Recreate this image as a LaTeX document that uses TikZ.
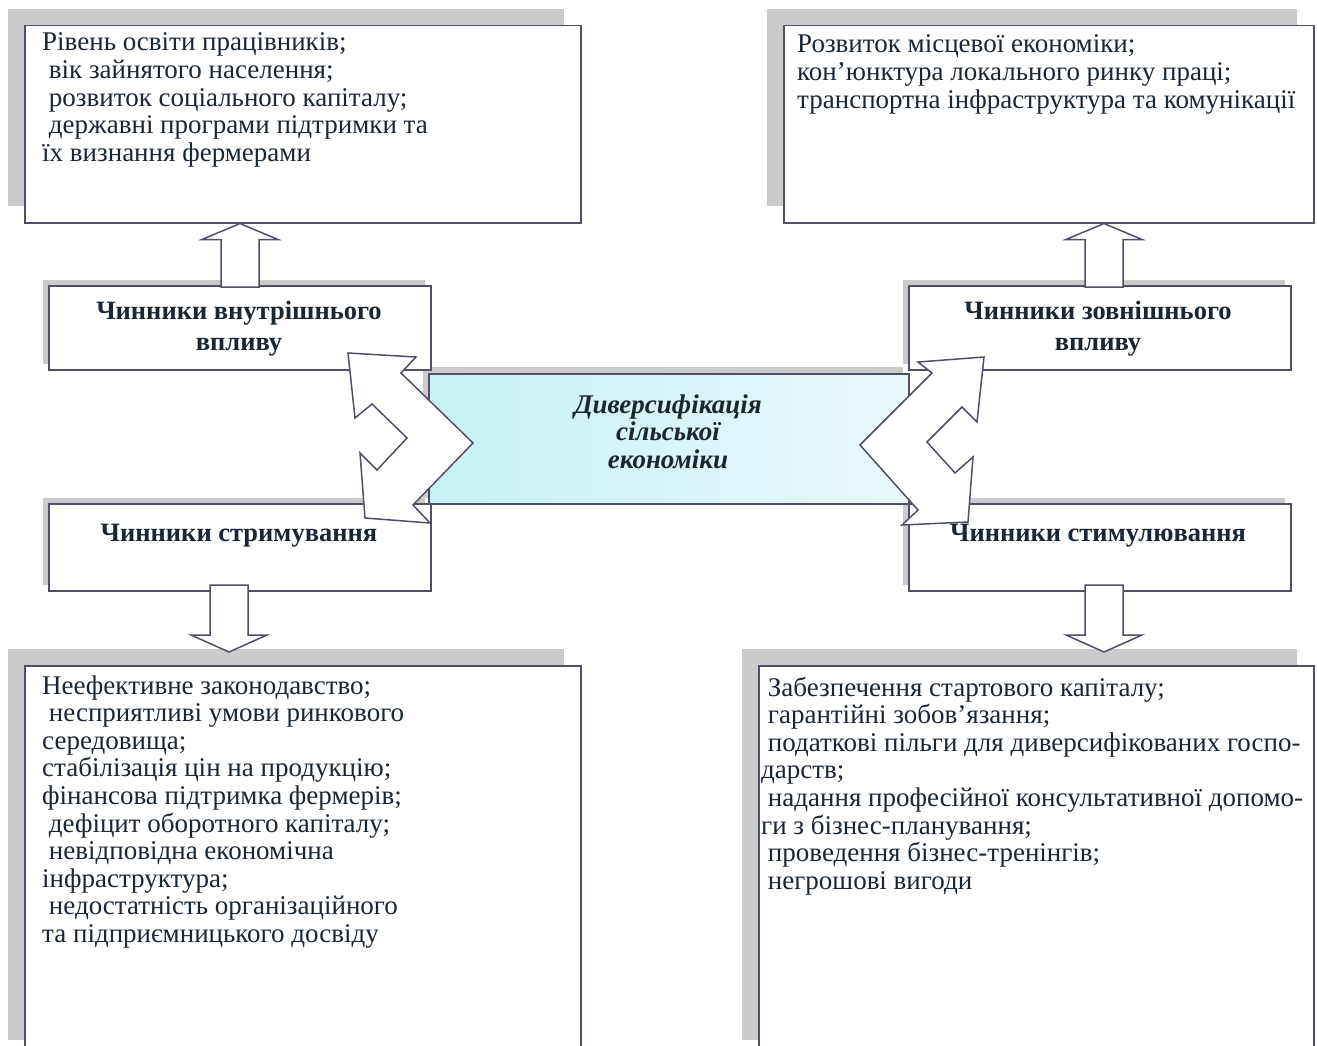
\documentclass[tikz,border=0pt]{standalone}
\usepackage{fontspec}
\setmainfont{Liberation Serif}
\usetikzlibrary{calc}
\definecolor{ink}{HTML}{1B2635}
\definecolor{edge}{HTML}{4F5068}
\definecolor{shad}{HTML}{CBCBCB}
\definecolor{cyanA}{HTML}{C6F1F6}
\definecolor{cyanB}{HTML}{E8F8FA}
\newcommand\txtlines[1]{\begin{tabular}[t]{@{}l@{}}#1\end{tabular}}
\newcommand\ctrlines[1]{\begin{tabular}[t]{@{}c@{}}#1\end{tabular}}
\newcommand\ind{\hspace*{0.25em}}
\newcommand\uparrowblock[2]{\draw[blockarrow] ([xshift=-19pt]#1) -- ([xshift=-19pt,yshift=-16pt]#2) -- ([xshift=-38pt,yshift=-16pt]#2) -- (#2) -- ([xshift=38pt,yshift=-16pt]#2) -- ([xshift=19pt,yshift=-16pt]#2) -- ([xshift=19pt]#1) -- cycle;}
\newcommand\downarrowblock[2]{\draw[blockarrow] ([xshift=-19pt]#1) -- ([xshift=-19pt,yshift=17pt]#2) -- ([xshift=-38pt,yshift=17pt]#2) -- (#2) -- ([xshift=38pt,yshift=17pt]#2) -- ([xshift=19pt,yshift=17pt]#2) -- ([xshift=19pt]#1) -- cycle;}
\begin{document}
\begin{tikzpicture}[x=1pt,y=-1pt,
  box/.style={draw=edge,line width=1.5pt,fill=white,inner sep=0pt,anchor=north west},
  shadowbox/.style={fill=shad},
  blockarrow/.style={draw=edge,line width=1.5pt,fill=white,line join=miter},
  bodytext/.style={anchor=base west,inner sep=0pt,text=ink,font=\fontsize{27}{27.6}\selectfont},
  headtext/.style={anchor=base,inner sep=0pt,text=ink,font=\fontsize{26.5}{31}\selectfont\bfseries},
  centertext/.style={anchor=base,inner sep=0pt,text=ink,font=\fontsize{27}{27.5}\selectfont\bfseries\itshape}]
\useasboundingbox (0,0) rectangle (1317,1046);
\fill[white] (0,0) rectangle (1317,1046);
% shadows
\fill[shadowbox] (8,9) rectangle (564,206);
\fill[shadowbox] (767,9) rectangle (1297,206);
\fill[shadowbox] (8,649) rectangle (564,1040);
\fill[shadowbox] (742,649) rectangle (1297,1040);
\fill[shadowbox] (43,280) rectangle (425,364);
\fill[shadowbox] (903,280) rectangle (1285,364);
\fill[shadowbox] (43,498) rectangle (425,585);
\fill[shadowbox] (903,498) rectangle (1285,585);
\fill[shadowbox] (423,367) rectangle (903,498);
% boxes
\node[box,minimum width=556pt,minimum height=197pt] (tl) at (24,25) {};
\node[box,minimum width=530pt,minimum height=197pt] (tr) at (783,25) {};
\node[box,minimum width=382pt,minimum height=84pt] (ml) at (48,285) {};
\node[box,minimum width=382pt,minimum height=84pt] (mr) at (908,285) {};
\node[box,minimum width=382pt,minimum height=87pt] (sl) at (48,503) {};
\node[box,minimum width=382pt,minimum height=87pt] (sr) at (908,503) {};
\node[box,minimum width=556pt,minimum height=400pt] (bl) at (24,665) {};
\node[box,minimum width=555pt,minimum height=400pt] (br) at (758,665) {};
\node[box,fill=none,left color=cyanA,right color=cyanB,minimum width=480pt,minimum height=130pt] (cb) at (428,373) {};
% zigzag double arrows
\draw[blockarrow] (348,353) -- (416,357) -- (401,373) -- (473,443) -- (413,505) -- (430,523) -- (365,518) -- (360,453) -- (377,470) -- (407,438) -- (372,404) -- (355,418) -- cycle;
\draw[blockarrow] (984,357) -- (918,362) -- (932,373) -- (860,445) -- (918,510) -- (902,525) -- (968,522) -- (973,457) -- (955,473) -- (927,442) -- (962,407) -- (977,422) -- cycle;
% block arrows
\coordinate (u1b) at (240,287);
\coordinate (u1t) at (u1b |- tl.south);
\coordinate (u2b) at (1104,287);
\coordinate (u2t) at (u2b |- tr.south);
\coordinate (d1t) at (229,585);
\coordinate (d1h) at (229,652);
\coordinate (d2t) at (1104,585);
\coordinate (d2h) at (1104,652);
\uparrowblock{u1b}{u1t}
\uparrowblock{u2b}{u2t}
\downarrowblock{d1t}{d1h}
\downarrowblock{d2t}{d2h}
% texts
\node[bodytext] (tlt) at (42,51) {\txtlines{Рівень освіти працівників;\\ \ind вік зайнятого населення;\\ \ind розвиток соціального капіталу;\\ \ind державні програми підтримки та\\ їх визнання фермерами}};
\node[bodytext] (trt) at (797,53) {\txtlines{Розвиток місцевої економіки;\\ кон’юнктура локального ринку праці;\\ транспортна інфраструктура та комунікації}};
\node[bodytext] (blt) at (42,694) {\txtlines{Неефективне законодавство;\\ \ind несприятливі умови ринкового\\ середовища;\\ стабілізація цін на продукцію;\\ фінансова підтримка фермерів;\\ \ind дефіцит оборотного капіталу;\\ \ind невідповідна економічна\\ інфраструктура;\\ \ind недостатність організаційного\\ та підприємницького досвіду}};
\node[bodytext] (brt) at (761,696) {\txtlines{\ind Забезпечення стартового капіталу;\\ \ind гарантійні зобов’язання;\\ \ind податкові пільги для диверсифікованих госпо-\\ дарств;\\ \ind надання професійної консультативної допомо-\\ ги з бізнес-планування;\\ \ind проведення бізнес-тренінгів;\\ \ind негрошові вигоди}};
\node[headtext] (mlt) at (239,319) {\ctrlines{Чинники внутрішнього\\ впливу}};
\node[headtext] (mrt) at (1098,319) {\ctrlines{Чинники зовнішнього\\ впливу}};
\node[headtext] (slt) at (239,541) {Чинники стримування};
\node[headtext] (srt) at (1098,541) {Чинники стимулювання};
\node[centertext] (cbt) at (668,413) {\ctrlines{Диверсифікація\\ сільської\\ економіки}};
\end{tikzpicture}
\end{document}
